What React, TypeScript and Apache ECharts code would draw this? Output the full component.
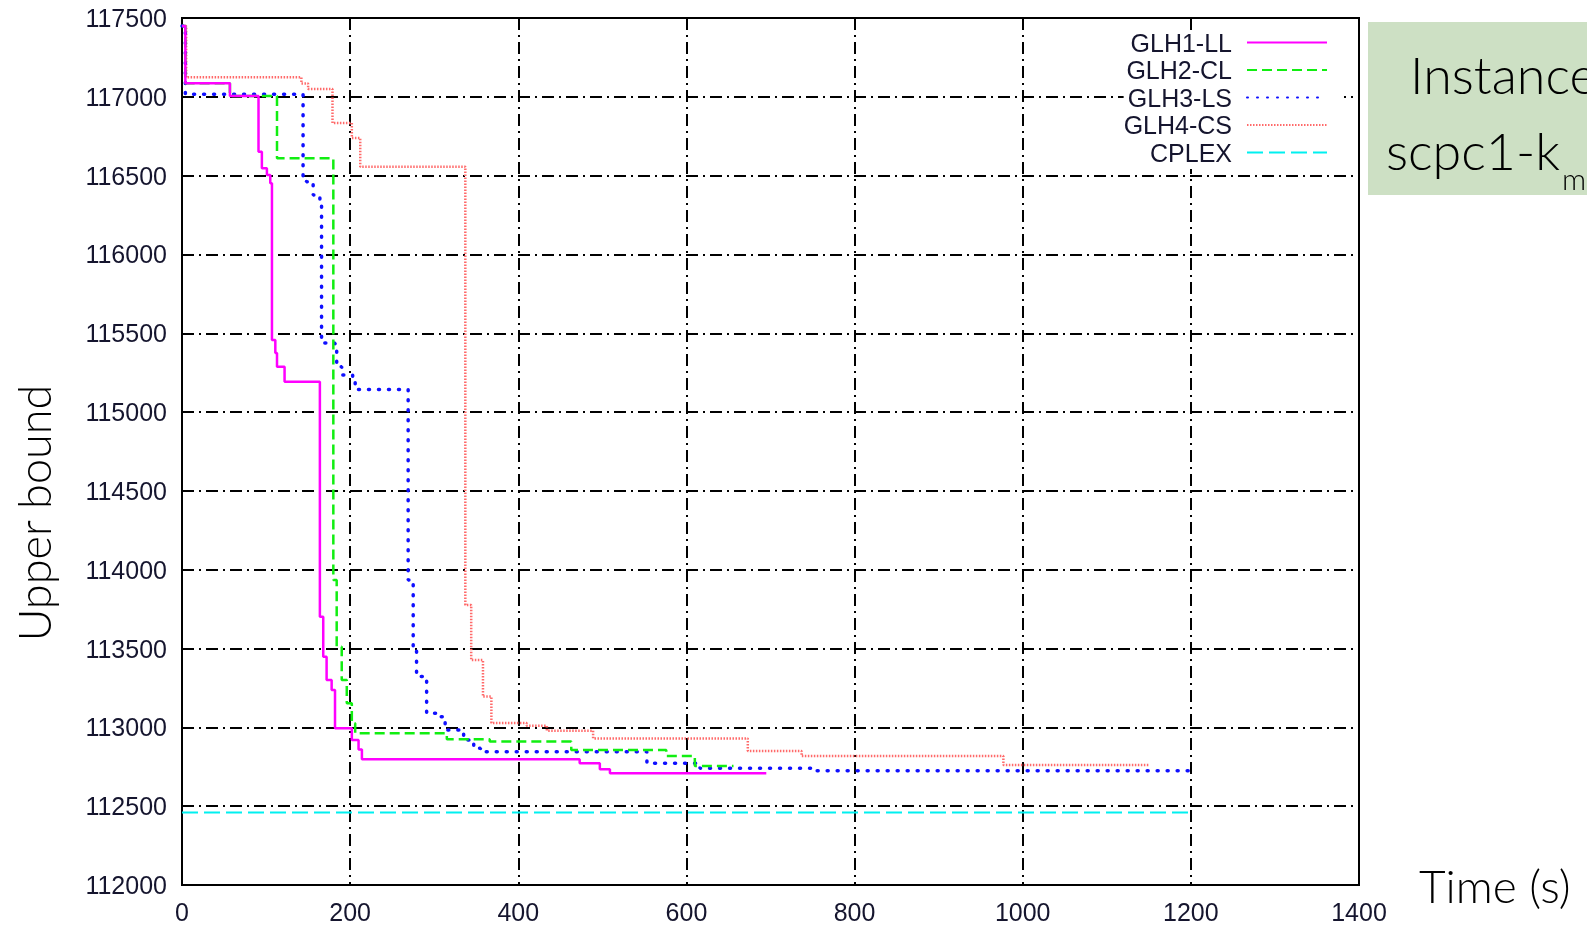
import React, { useEffect, useRef } from "react";
import * as echarts from "echarts";

// Data: [time (s), upper bound] vertices of each staircase (value changes at that time)
const glh1LL: [number, number][] = [
  [0, 117450], [4, 117086], [57, 117005], [91, 116652], [95, 116547], [101, 116504],
  [105, 116451], [107, 115457], [111, 115375], [113, 115288], [122, 115193],
  [164, 113702], [168, 113448], [172, 113300], [178, 113237], [182, 112994],
  [202, 112920], [210, 112860], [214, 112797], [473, 112772], [497, 112734],
  [509, 112709], [695, 112709],
];
const glh2CL: [number, number][] = [
  [0, 117450], [4, 117086], [57, 117005], [113, 116610], [180, 113935], [184, 113512],
  [190, 113300], [196, 113153], [202, 113026], [206, 112963], [315, 112925],
  [366, 112910], [463, 112857], [576, 112818], [610, 112755], [656, 112755],
];
const glh3LS: [number, number][] = [
  [0, 117450], [4, 117016], [144, 116493], [148, 116462], [156, 116377], [164, 116340],
  [166, 115438], [182, 115394], [184, 115288], [190, 115235], [203, 115204],
  [206, 115144], [269, 113935], [275, 113512], [279, 113322], [287, 113300],
  [291, 113089], [303, 113068], [313, 112983], [335, 112920], [347, 112867],
  [355, 112846], [553, 112772], [616, 112740], [755, 112725], [1200, 112725],
];
const glh4CS: [number, number][] = [
  [0, 117450], [5, 117124], [142, 117085], [150, 117050], [179, 116834], [202, 116739],
  [212, 116557], [337, 113776], [344, 113427], [358, 113195], [368, 113028],
  [410, 113010], [434, 112979], [489, 112930], [673, 112850], [737, 112818],
  [977, 112761], [1151, 112761],
];
const cplex: [number, number][] = [[0, 112460], [1200, 112460]];

const seriesNames = ["GLH1-LL", "GLH2-CL", "GLH3-LS", "GLH4-CS", "CPLEX"];
const xTicks = { min: 0, max: 1400, interval: 200 };
const yTicks = { min: 112000, max: 117500, interval: 500 };

const tickFont = "Liberation Sans";
const titleFont = "Lato";

export default function App() {
  const ref = useRef<HTMLDivElement>(null);
  useEffect(() => {
    if (!ref.current) return;
    const chart = echarts.init(ref.current, undefined, { renderer: "svg" });
    const gridLine = { show: true, lineStyle: { color: "#000", width: 2, type: [12, 5, 2, 5] } };
    const mk = (name: string, data: [number, number][], color: string, width: number, type: any, cap: any = "butt") => ({
      name,
      type: "line",
      step: "end",
      data,
      symbol: "none",
      lineStyle: { color, width, type, cap },
      itemStyle: { color },
    });
    chart.setOption({
      animation: false,
      grid: { left: 182, right: 228, top: 18, bottom: 40, show: true, borderColor: "#000", borderWidth: 2, backgroundColor: "transparent" },
      legend: {
        data: seriesNames,
        orient: "vertical",
        align: "right",
        right: 243,
        top: 30,
        padding: [0, 16, 4, 0],
        backgroundColor: "#fff",
        itemWidth: 80,
        itemHeight: 14,
        itemGap: 2.5,
        itemStyle: { opacity: 0 },
        textStyle: { fontFamily: tickFont, fontSize: 25, lineHeight: 24, color: "#15152e", padding: [0, 10, 0, 0] },
      },
      xAxis: {
        type: "value",
        ...xTicks,
        name: "Time (s)",
        nameLocation: "end",
        nameGap: 60,
        nameTextStyle: { fontFamily: titleFont, fontWeight: 300, fontSize: 46, color: "#000", align: "left", verticalAlign: "middle" },
        axisLine: { show: true, lineStyle: { color: "#000", width: 2 } },
        axisTick: { show: false },
        splitLine: gridLine,
        axisLabel: { fontFamily: tickFont, fontSize: 25, color: "#15152e", margin: 14, formatter: (v: number) => String(v) },
      },
      yAxis: {
        type: "value",
        ...yTicks,
        axisLine: { show: true, lineStyle: { color: "#000", width: 2 } },
        axisTick: { show: false },
        splitLine: gridLine,
        axisLabel: { fontFamily: tickFont, fontSize: 25, color: "#15152e", margin: 15, formatter: (v: number) => String(v) },
      },
      graphic: [
        {
          type: "text",
          x: 34,
          y: 513,
          rotation: Math.PI / 2,
          style: { text: "Upper bound", fontFamily: titleFont, fontWeight: 300, fontSize: 45, fill: "#000", align: "center", verticalAlign: "middle" },
        },
        { type: "rect", shape: { x: 1368, y: 22, width: 260, height: 173 }, style: { fill: "#cde0c4" } },
        {
          type: "text",
          x: 1410,
          y: 74,
          style: { text: "Instance", fontFamily: titleFont, fontWeight: 300, fontSize: 52, fill: "#000", align: "left", verticalAlign: "middle" },
        },
        {
          type: "text",
          x: 1386,
          y: 150,
          style: { text: "scpc1-k", fontFamily: titleFont, fontWeight: 300, fontSize: 52, fill: "#000", align: "left", verticalAlign: "middle" },
        },
        {
          type: "text",
          x: 1562,
          y: 178,
          style: { text: "m", fontFamily: titleFont, fontWeight: 300, fontSize: 30, fill: "#000", align: "left", verticalAlign: "middle" },
        },
      ],
      series: [
        mk("CPLEX", cplex, "#00f0f0", 2, [16, 6]),
        mk("GLH4-CS", glh4CS, "#ff6a6a", 2.5, [1.5, 1.5]),
        mk("GLH3-LS", glh3LS, "#1010ff", 3.5, [1, 9], "round"),
        mk("GLH2-CL", glh2CL, "#11ee11", 2.5, [10, 5]),
        mk("GLH1-LL", glh1LL, "#ff00ff", 2.5, "solid"),
      ],
    });
    return () => chart.dispose();
  }, []);
  return <div ref={ref} style={{ position: "fixed", left: 0, top: 0, width: 1587, height: 925 }} />;
}
